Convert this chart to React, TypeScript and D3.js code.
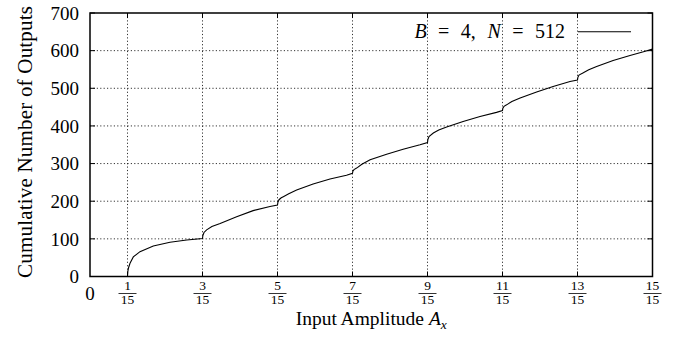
import React from "react";
import * as d3 from "d3";

// x positions in units of 1/15, cumulative outputs
const xUnits = [
  1.0, 1.01, 1.03, 1.067, 1.155, 1.333, 1.688, 2.133, 2.579, 3.0,
  3.01, 3.04, 3.11, 3.25, 3.47, 3.91, 4.35, 4.8, 5.0,
  5.01, 5.04, 5.1, 5.155, 5.3, 5.51, 5.95, 6.4, 6.84, 7.0,
  7.01, 7.04, 7.11, 7.25, 7.47, 7.91, 8.35, 8.8, 9.0,
  9.01, 9.04, 9.155, 9.3, 9.51, 9.95, 10.4, 10.84, 11.0,
  11.01, 11.04, 11.11, 11.25, 11.47, 11.91, 12.35, 12.8, 13.0,
  13.01, 13.04, 13.155, 13.3, 13.51, 13.95, 14.4, 14.76, 15.0,
];
const yValues = [
  0, 14, 24, 35, 52, 66, 81, 91, 97, 101,
  109, 117, 124, 133, 141, 159, 175, 186, 190,
  197, 204, 209, 212, 220, 230, 246, 259, 269, 274,
  280, 284, 288, 298, 310, 325, 338, 350, 356,
  364, 372, 381, 389, 397, 412, 425, 436, 441,
  447, 452, 456, 465, 474, 490, 505, 518, 522,
  529, 535, 541, 549, 558, 574, 587, 597, 604,
];
const xTickNumerators = [1, 3, 5, 7, 9, 11, 13, 15];
const xTickDenominator = 15;
const yTicks = [0, 100, 200, 300, 400, 500, 600, 700];
const legendLabel = ["B", " = 4, ", "N", " = 512"];

const W = 689;
const H = 339;
const FONT = "'Liberation Serif', 'DejaVu Serif', serif";

export default function App() {
  const x = d3.scaleLinear().domain([0, 1]).range([90, 652.5]);
  const y = d3.scaleLinear().domain([0, 700]).range([276.5, 13]);
  const pts: [number, number][] = xUnits.map((u, i) => [u / xTickDenominator, yValues[i]]);
  const line = d3
    .line<[number, number]>()
    .x((d) => x(d[0]))
    .y((d) => y(d[1]));
  const [x0, x1] = x.range();
  const [y0, y1] = y.range();
  const tl = 5;
  return (
    <svg
      width={W}
      height={H}
      style={{ position: "absolute", left: 0, top: 0, background: "#fff" }}
    >
      <rect x={0} y={0} width={W} height={H} fill="#fff" />
      {/* grid */}
      <g stroke="#000" strokeWidth={0.8} strokeDasharray="1.2,2.2">
        {xTickNumerators
          .filter((n) => n < xTickDenominator)
          .map((n) => (
            <line key={"gx" + n} x1={x(n / xTickDenominator)} x2={x(n / xTickDenominator)} y1={y0} y2={y1} />
          ))}
        {yTicks
          .filter((v) => v > 0 && v < 700)
          .map((v) => (
            <line key={"gy" + v} x1={x0} x2={x1} y1={y(v)} y2={y(v)} />
          ))}
      </g>
      {/* ticks */}
      <g stroke="#000" strokeWidth={1}>
        {xTickNumerators.map((n) => {
          const px = x(n / xTickDenominator);
          return (
            <g key={"tx" + n}>
              <line x1={px} x2={px} y1={y0} y2={y0 - tl} />
              <line x1={px} x2={px} y1={y1} y2={y1 + tl} />
            </g>
          );
        })}
        {yTicks.map((v) => (
          <g key={"ty" + v}>
            <line x1={x0} x2={x0 + tl} y1={y(v)} y2={y(v)} />
            <line x1={x1} x2={x1 - tl} y1={y(v)} y2={y(v)} />
          </g>
        ))}
      </g>
      {/* curve */}
      <path d={line(pts) || ""} fill="none" stroke="#000" strokeWidth={1.1} />
      {/* frame */}
      <rect x={x0} y={y1} width={x1 - x0} height={y0 - y1} fill="none" stroke="#000" strokeWidth={1.5} />
      {/* y tick labels */}
      {yTicks.map((v) => (
        <text key={"ly" + v} x={x0 - 11} y={y(v)} dy="0.35em" textAnchor="end" fontSize={19} fontFamily={FONT}>
          {v}
        </text>
      ))}
      {/* x tick labels */}
      <text x={x(0)} y={299.5} textAnchor="middle" fontSize={19} fontFamily={FONT}>
        0
      </text>
      {xTickNumerators.map((n) => {
        const px = x(n / xTickDenominator);
        return (
          <g key={"lx" + n}>
            <text x={px} y={289.5} textAnchor="middle" fontSize={13.5} fontFamily={FONT}>
              {n}
            </text>
            <line x1={px - 9} x2={px + 9} y1={293.5} y2={293.5} stroke="#000" strokeWidth={0.8} />
            <text x={px} y={304} textAnchor="middle" fontSize={13.5} fontFamily={FONT}>
              {xTickDenominator}
            </text>
          </g>
        );
      })}
      {/* axis titles */}
      <text x={(x0 + x1) / 2} y={324.5} textAnchor="middle" fontSize={19.5} fontFamily={FONT}>
        Input Amplitude{" "}
        <tspan fontStyle="italic">A</tspan>
        <tspan fontStyle="italic" fontSize={13.5} dy={4}>
          x
        </tspan>
      </text>
      <text
        transform={`translate(31.5, ${(5 + 279) / 2}) rotate(-90)`}
        textAnchor="middle"
        fontSize={21}
        fontFamily={FONT}
        textLength={272}
        lengthAdjust="spacing"
      >
        Cumulative Number of Outputs
      </text>
      {/* legend */}
      <text
        x={565}
        y={37.5}
        textAnchor="end"
        fontSize={20}
        fontFamily={FONT}
        xmlSpace="preserve"
        style={{ wordSpacing: "6.5px", whiteSpace: "pre" }}
      >
        <tspan fontStyle="italic">{legendLabel[0]}</tspan>
        <tspan>{legendLabel[1]}</tspan>
        <tspan fontStyle="italic">{legendLabel[2]}</tspan>
        <tspan>{legendLabel[3]}</tspan>
      </text>
      <line x1={578} x2={631} y1={31.7} y2={31.7} stroke="#000" strokeWidth={1.1} />
    </svg>
  );
}
